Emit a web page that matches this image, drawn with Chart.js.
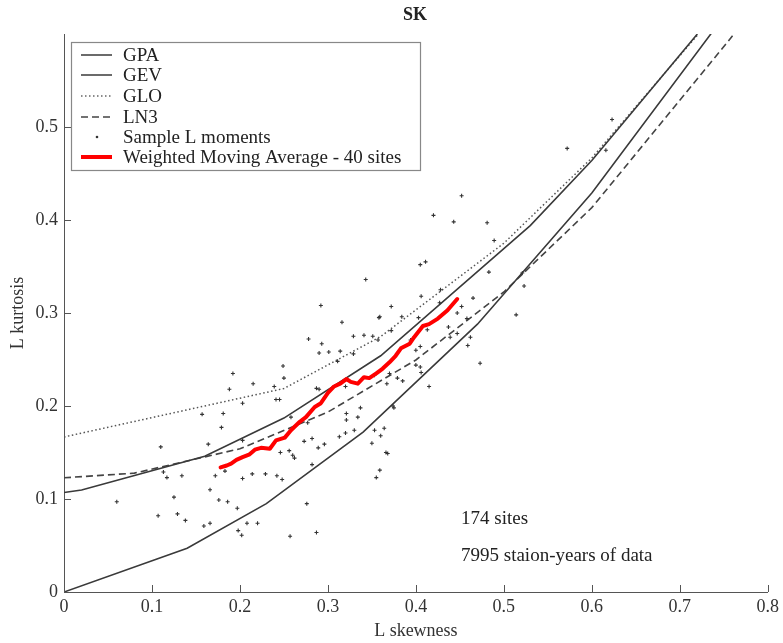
<!DOCTYPE html>
<html>
<head>
<meta charset="utf-8">
<title>SK</title>
<script src="https://cdn.jsdelivr.net/npm/chart.js@4.4.1/dist/chart.umd.min.js"></script>
<style>
  html, body { margin: 0; padding: 0; background: #fff; }
  canvas { display: block; }
</style>
</head>
<body>
<canvas id="chart" width="783" height="643"></canvas>
<script>
// theoretical L-moment ratio curves
var gpaX = [0, 0.14, 0.23, 0.34, 0.47, 0.60, 0.74];
var gpaY = [0, 0.047, 0.095, 0.172, 0.288, 0.429, 0.606];

var gevX = [0, 0.02, 0.16, 0.25, 0.36, 0.53, 0.60, 0.72];
var gevY = [0.107, 0.1096, 0.146, 0.187, 0.254, 0.394, 0.464, 0.600];

var gloX = [0, 0.25, 0.36, 0.50, 0.60, 0.72];
var gloY = [0.1667, 0.2188, 0.2747, 0.375, 0.4667, 0.5987];

var ln3X = [0, 0.08, 0.20, 0.30, 0.40, 0.50, 0.60, 0.76];
var ln3Y = [0.1228, 0.1278, 0.154, 0.1935, 0.2495, 0.3226, 0.4133, 0.598];

// weighted moving average - 40 sites
var wmaX = [0.178, 0.185, 0.190, 0.196, 0.203, 0.211, 0.217, 0.224, 0.234, 0.241, 0.251, 0.258,
            0.268, 0.275, 0.285, 0.292, 0.300, 0.307, 0.314, 0.321, 0.326, 0.334, 0.341, 0.347,
            0.355, 0.362, 0.370, 0.377, 0.383, 0.393, 0.398, 0.408, 0.415, 0.425, 0.436, 0.447];
var wmaY = [0.134, 0.136, 0.138, 0.142, 0.145, 0.148, 0.153, 0.155, 0.154, 0.163, 0.166, 0.174,
            0.183, 0.188, 0.199, 0.203, 0.214, 0.221, 0.224, 0.229, 0.226, 0.224, 0.231, 0.230,
            0.235, 0.240, 0.247, 0.254, 0.262, 0.267, 0.274, 0.286, 0.288, 0.294, 0.303, 0.315];

// sample L moments (skewness, kurtosis) per site
var sampleX = [0.192, 0.188, 0.203, 0.157, 0.181, 0.179, 0.110, 0.164, 0.203, 0.113, 0.117, 0.134,
               0.172, 0.183, 0.203, 0.166, 0.060, 0.125, 0.176, 0.186, 0.197, 0.107, 0.129, 0.138,
               0.159, 0.166, 0.208, 0.198, 0.202,
               0.278, 0.293, 0.314, 0.301, 0.329, 0.357, 0.311, 0.290, 0.249, 0.250, 0.215, 0.239,
               0.241, 0.245, 0.287, 0.290, 0.320, 0.353, 0.367, 0.337, 0.321, 0.334, 0.321, 0.277,
               0.258, 0.313, 0.320, 0.330, 0.353, 0.364, 0.360, 0.273, 0.282, 0.289, 0.296, 0.350,
               0.246, 0.256, 0.260, 0.262, 0.366, 0.282, 0.359, 0.355, 0.214, 0.229, 0.242, 0.248,
               0.276, 0.220, 0.257, 0.287,
               0.452, 0.420, 0.443, 0.481, 0.489, 0.405, 0.411, 0.483, 0.428, 0.406, 0.465, 0.523,
               0.372, 0.384, 0.403, 0.427, 0.452, 0.447, 0.372, 0.514, 0.458, 0.437, 0.439, 0.447,
               0.462, 0.459, 0.359, 0.413, 0.400, 0.405, 0.473, 0.394, 0.405, 0.400, 0.406, 0.379,
               0.385, 0.415, 0.370, 0.375,
               0.343, 0.292, 0.316, 0.358, 0.329, 0.341, 0.351, 0.368, 0.374,
               0.572, 0.616, 0.623, 0.521];
var sampleY = [0.235, 0.218, 0.203, 0.191, 0.192, 0.177, 0.156, 0.159, 0.163, 0.129, 0.123, 0.125,
               0.125, 0.130, 0.122, 0.110, 0.097, 0.102, 0.099, 0.097, 0.090, 0.082, 0.084, 0.077,
               0.071, 0.074, 0.074, 0.066, 0.061,
               0.272, 0.267, 0.259, 0.258, 0.256, 0.271, 0.248, 0.257, 0.243, 0.230, 0.224, 0.221,
               0.207, 0.207, 0.219, 0.218, 0.221, 0.233, 0.224, 0.198, 0.192, 0.188, 0.185, 0.182,
               0.188, 0.167, 0.171, 0.174, 0.174, 0.176, 0.168, 0.162, 0.165, 0.155, 0.159, 0.160,
               0.150, 0.152, 0.147, 0.144, 0.150, 0.137, 0.131, 0.123, 0.127, 0.127, 0.125, 0.121,
               0.095, 0.074, 0.060, 0.064,
               0.426, 0.405, 0.398, 0.397, 0.378, 0.352, 0.355, 0.344, 0.325, 0.318, 0.316, 0.329,
               0.307, 0.296, 0.295, 0.311, 0.307, 0.300, 0.281, 0.298, 0.294, 0.285, 0.274, 0.278,
               0.274, 0.265, 0.296, 0.282, 0.260, 0.264, 0.246, 0.271, 0.242, 0.244, 0.236, 0.230,
               0.227, 0.221, 0.235, 0.198,
               0.336, 0.308, 0.290, 0.295, 0.275, 0.276, 0.275, 0.149, 0.200,
               0.477, 0.475, 0.508, 0.343];

var xTicks = [0, 0.1, 0.2, 0.3, 0.4, 0.5, 0.6, 0.7, 0.8];
var yTicks = [0, 0.1, 0.2, 0.3, 0.4, 0.5];

var legendNames = ['GPA', 'GEV', 'GLO', 'LN3', 'Sample L moments', 'Weighted Moving Average - 40 sites'];
var notes = ['174 sites', '7995 staion-years of data'];

function pts(xs, ys) {
    return xs.map(function (x, i) { return { x: x, y: ys[i] }; });
}

var serif = "'Liberation Serif', 'DejaVu Serif', serif";
Chart.defaults.font.family = serif;
Chart.defaults.font.size = 18;
Chart.defaults.color = '#333';

// inward ticks, title, legend box and text notes
var extras = {
    id: 'extras',
    afterDraw: function (chart) {
        var ctx = chart.ctx;
        var xs = chart.scales.x, ys = chart.scales.y;
        ctx.save();
        ctx.strokeStyle = '#555';
        ctx.lineWidth = 1;
        xTicks.forEach(function (v) {
            var px = Math.round(xs.getPixelForValue(v)) + 0.5;
            ctx.beginPath();
            ctx.moveTo(px, ys.bottom);
            ctx.lineTo(px, ys.bottom - 7);
            ctx.stroke();
        });
        yTicks.forEach(function (v) {
            var py = Math.round(ys.getPixelForValue(v)) + 0.5;
            ctx.beginPath();
            ctx.moveTo(xs.left, py);
            ctx.lineTo(xs.left + 7, py);
            ctx.stroke();
        });

        // title
        ctx.fillStyle = '#222';
        ctx.font = 'bold 18px ' + serif;
        ctx.textAlign = 'center';
        ctx.textBaseline = 'middle';
        ctx.fillText('SK', 415, 15);

        // legend
        var bx = 71, by = 42, bw = 349, bh = 128;
        ctx.fillStyle = '#fff';
        ctx.fillRect(bx, by, bw, bh);
        ctx.strokeStyle = '#888';
        ctx.lineWidth = 1.2;
        ctx.strokeRect(bx + 0.5, by + 0.5, bw, bh);
        var rows = [55, 75, 96, 117, 137, 157];
        ctx.font = '19px ' + serif;
        ctx.textAlign = 'left';
        rows.forEach(function (ry, i) {
            ctx.save();
            ctx.beginPath();
            if (i === 4) {
                ctx.fillStyle = '#333';
                ctx.arc(97, ry, 1.3, 0, Math.PI * 2);
                ctx.fill();
            } else {
                ctx.lineWidth = 1.5;
                ctx.strokeStyle = '#3a3a3a';
                if (i === 2) { ctx.setLineDash([1.5, 2.5]); ctx.strokeStyle = '#666'; ctx.lineWidth = 1.4; }
                if (i === 3) { ctx.setLineDash([7, 4]); ctx.strokeStyle = '#444'; }
                if (i === 5) { ctx.strokeStyle = '#ff0000'; ctx.lineWidth = 4; }
                ctx.moveTo(81, ry);
                ctx.lineTo(112, ry);
                ctx.stroke();
            }
            ctx.restore();
            ctx.fillStyle = '#222';
            ctx.fillText(legendNames[i], 123, ry + 1);
        });

        // notes
        ctx.fillText(notes[0], 461, 519);
        ctx.fillText(notes[1], 461, 556);
        ctx.restore();
    }
};

new Chart(document.getElementById('chart'), {
    type: 'scatter',
    data: {
        datasets: [{
            label: 'Weighted Moving Average - 40 sites',
            data: pts(wmaX, wmaY),
            showLine: true,
            borderColor: '#ff0000',
            borderWidth: 4,
            borderCapStyle: 'round',
            borderJoinStyle: 'round',
            pointRadius: 0,
            order: 0
        }, {
            label: 'Sample L moments',
            data: pts(sampleX, sampleY),
            pointStyle: 'cross',
            pointRadius: 2,
            borderColor: '#333',
            borderWidth: 1.1,
            order: 1
        }, {
            label: 'GPA',
            data: pts(gpaX, gpaY),
            showLine: true,
            borderColor: '#3a3a3a',
            borderWidth: 1.6,
            pointRadius: 0,
            order: 2
        }, {
            label: 'GEV',
            data: pts(gevX, gevY),
            showLine: true,
            borderColor: '#3a3a3a',
            borderWidth: 1.6,
            pointRadius: 0,
            order: 3
        }, {
            label: 'GLO',
            data: pts(gloX, gloY),
            showLine: true,
            borderColor: '#555',
            borderWidth: 1.5,
            borderDash: [1.5, 2.5],
            pointRadius: 0,
            order: 4
        }, {
            label: 'LN3',
            data: pts(ln3X, ln3Y),
            showLine: true,
            borderColor: '#444',
            borderWidth: 1.6,
            borderDash: [7, 4],
            pointRadius: 0,
            order: 5
        }]
    },
    options: {
        responsive: false,
        animation: false,
        layout: {
            padding: { top: 34, right: 14, left: 0, bottom: 0 }
        },
        scales: {
            x: {
                type: 'linear',
                min: 0,
                max: 0.8,
                afterFit: function (scale) { scale.height = 51; },
                afterBuildTicks: function (scale) {
                    scale.ticks = xTicks.map(function (v) { return { value: v }; });
                },
                grid: { display: false, drawTicks: false },
                border: { display: true, color: '#555', width: 1 },
                ticks: {
                    padding: 4,
                    maxRotation: 0,
                    color: '#333',
                    callback: function (value) { return String(Number(value.toFixed(1))); }
                },
                title: {
                    display: true,
                    text: 'L skewness',
                    color: '#333',
                    padding: { top: 0, bottom: 1 }
                }
            },
            y: {
                type: 'linear',
                min: 0,
                max: 0.6,
                afterFit: function (scale) { scale.width = 64; },
                afterBuildTicks: function (scale) {
                    scale.ticks = yTicks.map(function (v) { return { value: v }; });
                },
                grid: { display: false, drawTicks: false },
                border: { display: true, color: '#555', width: 1 },
                ticks: {
                    padding: 6,
                    color: '#333',
                    callback: function (value) { return String(Number(value.toFixed(1))); }
                },
                title: {
                    display: true,
                    text: 'L kurtosis',
                    color: '#333',
                    padding: { top: 7, bottom: 0 }
                }
            }
        },
        plugins: {
            legend: { display: false },
            tooltip: { enabled: false }
        }
    },
    plugins: [extras]
});
</script>
</body>
</html>
